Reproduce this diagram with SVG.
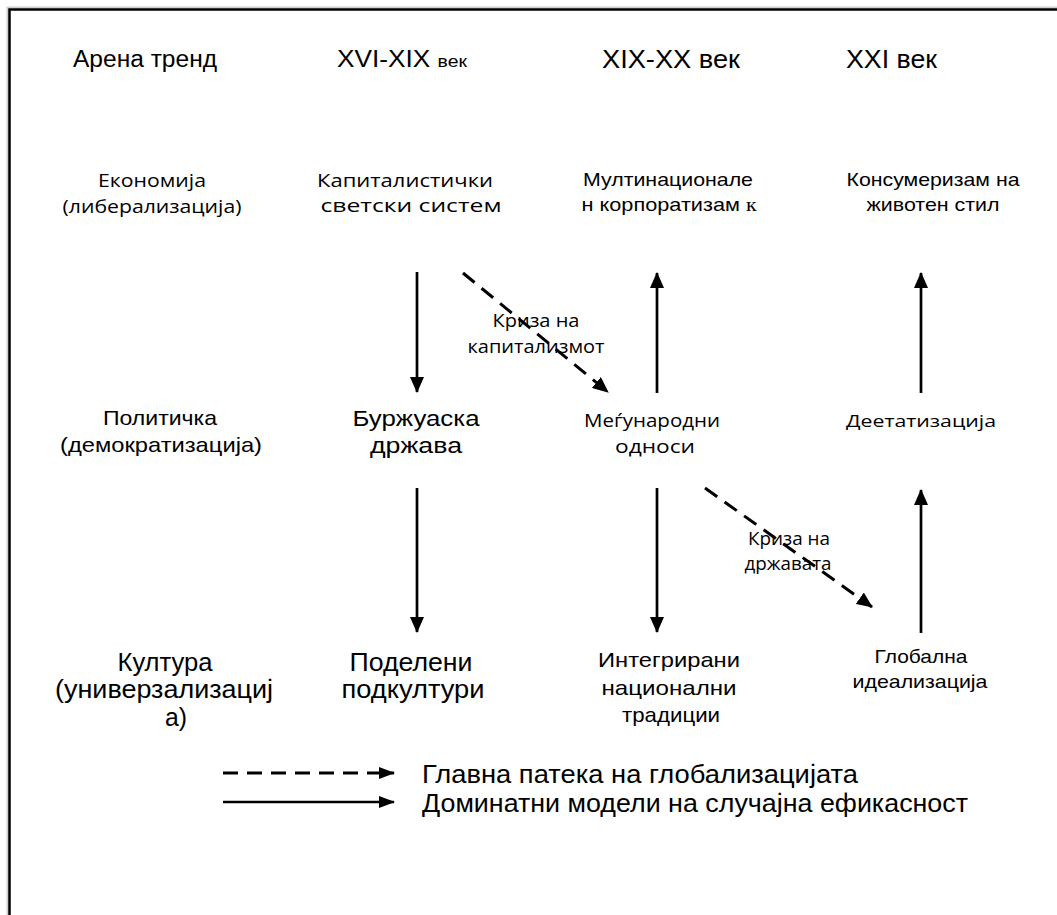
<svg xmlns="http://www.w3.org/2000/svg" width="1057" height="915" viewBox="0 0 1057 915">
<defs>
<style>
text{fill:#000;text-anchor:middle}
.a{font-family:"Liberation Sans",Arial,sans-serif}
.c{font-family:"Open Sans","Noto Sans",sans-serif}
.s{text-anchor:start}
.ln{stroke:#000;stroke-width:2.7;fill:none}
.ds{stroke:#000;stroke-width:3;fill:none;stroke-dasharray:15 9}
</style>
<marker id="ah" markerWidth="16" markerHeight="14" refX="15" refY="7" orient="auto" markerUnits="userSpaceOnUse">
<path d="M0,0 L16,7 L0,14 Z" fill="#000"/>
</marker>
<marker id="ahs" markerWidth="16" markerHeight="12" refX="15" refY="6" orient="auto" markerUnits="userSpaceOnUse">
<path d="M0,0 L16,6 L0,12 Z" fill="#000"/>
</marker>
</defs>
<rect width="1057" height="915" fill="#fff"/>
<path d="M7.5,915 V7.5 H1057" fill="none" stroke="#cfcfcf" stroke-width="2"/>
<path d="M9.5,915 V9.5 H1057" fill="none" stroke="#000" stroke-width="2.5"/>

<g id="header" class="a">
<text class="s" x="73" y="67" font-size="23" textLength="144" lengthAdjust="spacingAndGlyphs">Арена тренд</text>
<text class="s" x="337" y="67" font-size="23" textLength="130" lengthAdjust="spacingAndGlyphs">XVI-XIX <tspan font-size="17">век</tspan></text>
<text class="s" x="602" y="68" font-size="25" textLength="138" lengthAdjust="spacingAndGlyphs">XIX-XX век</text>
<text class="s" x="846" y="68" font-size="25" textLength="91" lengthAdjust="spacingAndGlyphs">XXI век</text>
</g>

<g id="row-economy" class="c">
<text x="152" y="187" font-size="18" textLength="108" lengthAdjust="spacingAndGlyphs">Економија</text>
<text x="152" y="213" font-size="18" textLength="179" lengthAdjust="spacingAndGlyphs">(либерализација)</text>
</g>
<g id="n-capitalist" class="c">
<text x="405" y="187" font-size="18" textLength="176" lengthAdjust="spacingAndGlyphs">Капиталистички</text>
<text x="411" y="212" font-size="18" textLength="181" lengthAdjust="spacingAndGlyphs">светски систем</text>
</g>
<g id="n-multinational" class="a">
<text x="668" y="186" font-size="18.5" textLength="170" lengthAdjust="spacingAndGlyphs">Мултинационале</text>
<text x="669" y="211" font-size="18.5" textLength="175" lengthAdjust="spacingAndGlyphs">н корпоратизам <tspan font-family="Liberation Serif,serif">к</tspan></text>
</g>
<g id="n-consumerism" class="a">
<text x="933" y="186" font-size="18.5" textLength="173" lengthAdjust="spacingAndGlyphs">Консумеризам на</text>
<text x="933" y="211" font-size="18.5" textLength="133" lengthAdjust="spacingAndGlyphs">животен стил</text>
</g>

<g id="row-politics" class="a">
<text x="160" y="425" font-size="21" textLength="114" lengthAdjust="spacingAndGlyphs">Политичка</text>
<text x="161" y="452" font-size="21" textLength="202" lengthAdjust="spacingAndGlyphs">(демократизација)</text>
</g>
<g id="n-bourgeois" class="a">
<text x="416" y="426" font-size="22" textLength="127" lengthAdjust="spacingAndGlyphs">Буржуаска</text>
<text x="416" y="453" font-size="22" textLength="92" lengthAdjust="spacingAndGlyphs">држава</text>
</g>
<g id="n-intl" class="c">
<text x="652" y="427" font-size="19" textLength="136" lengthAdjust="spacingAndGlyphs">Меѓународни</text>
<text x="655" y="453" font-size="19" textLength="80" lengthAdjust="spacingAndGlyphs">односи</text>
</g>
<g id="n-deetat" class="c">
<text x="921" y="427" font-size="17" textLength="150" lengthAdjust="spacingAndGlyphs">Деетатизација</text>
</g>

<g id="row-culture" class="a">
<text x="165" y="671" font-size="25" textLength="95" lengthAdjust="spacingAndGlyphs">Култура</text>
<text x="164" y="698" font-size="25" textLength="218" lengthAdjust="spacingAndGlyphs">(универзализациј</text>
<text x="176" y="726" font-size="25" textLength="22" lengthAdjust="spacingAndGlyphs">а)</text>
</g>
<g id="n-divided" class="a">
<text x="411" y="671" font-size="25" textLength="123" lengthAdjust="spacingAndGlyphs">Поделени</text>
<text x="413" y="698" font-size="25" textLength="143" lengthAdjust="spacingAndGlyphs">подкултури</text>
</g>
<g id="n-integrated" class="a">
<text x="669" y="667" font-size="21" textLength="142" lengthAdjust="spacingAndGlyphs">Интегрирани</text>
<text x="669" y="695" font-size="21" textLength="135" lengthAdjust="spacingAndGlyphs">национални</text>
<text x="671" y="722" font-size="21" textLength="98" lengthAdjust="spacingAndGlyphs">традиции</text>
</g>
<g id="n-global" class="a">
<text x="921" y="663" font-size="19" textLength="93" lengthAdjust="spacingAndGlyphs">Глобална</text>
<text x="920" y="688" font-size="19" textLength="135" lengthAdjust="spacingAndGlyphs">идеализација</text>
</g>

<g id="connectors">
<line class="ln" x1="417" y1="272" x2="417" y2="392" marker-end="url(#ah)"/>
<line class="ds" x1="463" y1="273" x2="608" y2="392" marker-end="url(#ah)"/>
<line class="ln" x1="657" y1="393" x2="657" y2="273" marker-end="url(#ah)"/>
<line class="ln" x1="921" y1="393" x2="921" y2="273" marker-end="url(#ah)"/>
<line class="ln" x1="417" y1="488" x2="417" y2="632" marker-end="url(#ah)"/>
<line class="ln" x1="657" y1="488" x2="657" y2="632" marker-end="url(#ah)"/>
<line class="ds" x1="705" y1="488" x2="872" y2="607" marker-end="url(#ah)"/>
<line class="ln" x1="921" y1="633" x2="921" y2="490" marker-end="url(#ah)"/>
</g>

<g id="labels" class="c">
<text x="536" y="327" font-size="18" textLength="87" lengthAdjust="spacingAndGlyphs">Криза на</text>
<text x="536" y="353" font-size="18" textLength="137" lengthAdjust="spacingAndGlyphs">капитализмот</text>
<text x="789" y="545" font-size="18" textLength="82" lengthAdjust="spacingAndGlyphs">Криза на</text>
<text x="788" y="570" font-size="18" textLength="87" lengthAdjust="spacingAndGlyphs">државата</text>
</g>

<g id="legend">
<line class="ds" x1="223" y1="773" x2="394" y2="773" stroke-dasharray="20 13" marker-end="url(#ahs)"/>
<line class="ln" x1="223" y1="802" x2="394" y2="802" stroke-width="3.2" marker-end="url(#ahs)"/>
<text class="a s" x="422" y="783" font-size="25" textLength="436" lengthAdjust="spacingAndGlyphs">Главна патека на глобализацијата</text>
<text class="a s" x="422" y="812" font-size="25" textLength="546" lengthAdjust="spacingAndGlyphs">Доминатни модели на случајна ефикасност</text>
</g>
</svg>
